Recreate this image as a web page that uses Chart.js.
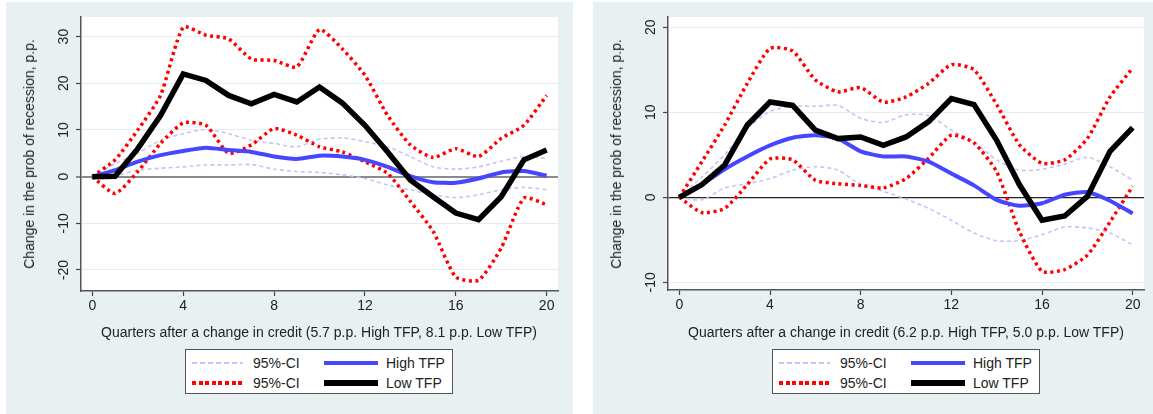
<!DOCTYPE html>
<html>
<head>
<meta charset="utf-8">
<script src="https://cdn.jsdelivr.net/npm/chart.js@4/dist/chart.umd.min.js"></script>
<style>
  body { margin: 0; background: #fff; font-family: "Liberation Sans", Arial, sans-serif; color: #222; }
  .panel { position: absolute; top: 2px; height: 412px; background: #e9f0f2; }
  #pL { left: 6px; width: 567px; }
  #pR { left: 593px; width: 560px; }
  .panel canvas { position: absolute; left: 0; top: 0; }
  .ytitle { position: absolute; left: 23px; top: 152px; transform: translate(-50%, -50%) rotate(-90deg); white-space: nowrap; font-size: 14px; }
  .xtitle { position: absolute; left: 313px; top: 330px; transform: translate(-50%, -50%); white-space: nowrap; font-size: 14px; }
  .legend { position: absolute; left: 179px; top: 347px; width: 266px; height: 43px; border: 1px solid #555; background: #fff; }
  .sw { position: absolute; transform: translateY(-50%); }
  .lab { position: absolute; transform: translateY(-50%); font-size: 14px; white-space: nowrap; }
  .ciB { height: 2px; background: repeating-linear-gradient(90deg, #c4c4f6 0 5px, transparent 5px 8px); }
  .ciR { height: 4px; background: repeating-linear-gradient(90deg, #f00 0 4px, transparent 4px 6.6px); }
  .hi { height: 4px; background: #4646ff; }
  .lo { height: 6px; background: #000; }
</style>
</head>
<body>
<div class="panel" id="pL">
  <canvas id="cL" width="567" height="412"></canvas>
  <div class="ytitle">Change in the prob of recession, p.p.</div>
  <div class="xtitle">Quarters after a change in credit (5.7 p.p. High TFP, 8.1 p.p. Low TFP)</div>
  <div class="legend">
    <div class="sw ciB" style="left:6px;top:13px;width:51px"></div><div class="lab" style="left:67px;top:13px">95%-CI</div>
    <div class="sw ciR" style="left:6px;top:33px;width:51px"></div><div class="lab" style="left:67px;top:33px">95%-CI</div>
    <div class="sw hi" style="left:138px;top:13px;width:54px"></div><div class="lab" style="left:200px;top:13px">High TFP</div>
    <div class="sw lo" style="left:138px;top:33px;width:54px"></div><div class="lab" style="left:200px;top:33px">Low TFP</div>
  </div>
</div>
<div class="panel" id="pR">
  <canvas id="cR" width="560" height="412"></canvas>
  <div class="ytitle">Change in the prob of recession, p.p.</div>
  <div class="xtitle">Quarters after a change in credit (6.2 p.p. High TFP, 5.0 p.p. Low TFP)</div>
  <div class="legend">
    <div class="sw ciB" style="left:6px;top:13px;width:51px"></div><div class="lab" style="left:67px;top:13px">95%-CI</div>
    <div class="sw ciR" style="left:6px;top:33px;width:51px"></div><div class="lab" style="left:67px;top:33px">95%-CI</div>
    <div class="sw hi" style="left:138px;top:13px;width:54px"></div><div class="lab" style="left:200px;top:13px">High TFP</div>
    <div class="sw lo" style="left:138px;top:33px;width:54px"></div><div class="lab" style="left:200px;top:33px">Low TFP</div>
  </div>
</div>
<script>
// quarters after the credit shock
const quarters = [0,1,2,3,4,5,6,7,8,9,10,11,12,13,14,15,16,17,18,19,20];
const xTicks = [0,4,8,12,16,20];

// left panel
const hiL   = [0,1.4,3.2,4.6,5.5,6.2,5.7,5.3,4.3,3.8,4.5,4.3,3.6,2.1,0.1,-1.2,-1.3,-0.4,0.9,1.2,0.2];
const hiUpL = [0,2.8,5.0,7.8,9.2,10.1,9.2,7.8,7.1,6.4,8.0,8.3,7.5,6.4,4.3,2.1,1.6,2.1,3.3,4.3,3.9];
const hiLoL = [0,0.2,1.4,1.8,2.1,2.5,2.5,2.6,1.6,1.1,0.9,0.4,-0.4,-1.8,-2.8,-3.9,-4.5,-3.9,-2.8,-2.3,-2.8];
const loL   = [0,0.1,6.0,13.1,22.0,20.6,17.4,15.6,17.6,16.0,19.2,15.8,11.0,5.3,-0.7,-4.3,-7.8,-9.2,-4.3,3.6,5.7];
const loUpL = [0,3.6,10.0,17.4,32.0,30.3,29.5,25.2,24.9,23.5,31.5,27.4,21.7,13.1,6.8,4.1,6.0,4.3,8.2,11.0,17.4];
const loLoL = [0,-3.6,1.1,7.1,11.5,11.0,5.0,6.8,10.3,8.9,6.4,5.3,3.2,0.7,-5.3,-11.7,-21.5,-22.2,-15.3,-4.6,-6.0];
const yTicksL = [-20,-10,0,10,20,30];

// right panel
const hiR   = [0,1.5,3.3,4.8,6.1,7.0,7.3,6.9,5.4,4.8,4.8,4.2,2.8,1.4,-0.3,-1.0,-0.7,0.3,0.6,-0.4,-1.9];
const hiUpR = [0,2.4,5.0,8.1,10.1,10.7,10.7,10.8,9.3,8.8,9.7,9.6,7.9,6.5,4.4,3.2,3.3,3.9,4.7,3.6,2.0];
const hiLoR = [0,-0.3,1.1,1.6,2.2,3.2,3.6,3.2,1.5,0.7,-0.2,-1.3,-2.7,-4.2,-5.1,-5.1,-4.4,-3.5,-3.6,-4.2,-5.6];
const loR   = [0,1.5,3.8,8.5,11.2,10.8,7.9,6.9,7.1,6.1,7.1,8.9,11.6,10.9,6.7,1.5,-2.7,-2.2,0.1,5.4,8.2];
const loUpR = [0,4.2,8.5,13.4,17.5,17.2,13.8,12.4,12.9,11.2,11.8,13.4,15.6,15.0,10.9,6.2,4.0,4.4,6.9,11.8,15.2];
const loLoR = [0,-1.8,-1.3,1.5,4.5,4.4,2.0,1.6,1.4,1.1,2.2,4.6,7.3,6.4,3.0,-4.0,-8.7,-8.5,-6.8,-2.9,1.3];
const yTicksR = [-10,0,10,20];

function pts(vals){ return vals.map((v,i)=>({x: quarters[i], y: v})); }

function ciBlue(vals){ return { data: pts(vals), borderColor:'#c4c4f6', borderWidth:1.6, borderDash:[4,3], tension:0.25, order:4 }; }
function ciRed(vals){ return { data: pts(vals), borderColor:'#ff0000', borderWidth:3.5, borderDash:[3,3.5], tension:0.2, order:3 }; }

// white plot region + rotated y tick labels
const plotBits = {
  id: 'plotBits',
  beforeDraw(chart){
    const a = chart.chartArea, ctx = chart.ctx;
    ctx.save(); ctx.fillStyle = '#fff';
    ctx.fillRect(a.left, a.top, a.right - a.left, a.bottom - a.top);
    ctx.restore();
  },
  afterDraw(chart){
    const y = chart.scales.y, ctx = chart.ctx;
    ctx.save();
    ctx.font = '14px "Liberation Sans", Arial, sans-serif';
    ctx.fillStyle = '#222'; ctx.textAlign = 'center'; ctx.textBaseline = 'middle';
    y.ticks.forEach(t => {
      ctx.save();
      ctx.translate(y.right - 17, y.getPixelForValue(t.value));
      ctx.rotate(-Math.PI/2);
      ctx.fillText(String(t.value), 0, 0);
      ctx.restore();
    });
    ctx.restore();
  }
};

function makeChart(id, s, yMin, yMax, yTicks, zeroColor, zeroWidth, rightPad, bottom){
  const canvas = document.getElementById(id);
  return new Chart(canvas, {
    type: 'line',
    data: { datasets: [
      { data: pts(s.lo), borderColor:'#000', borderWidth:5.5, tension:0, order:1 },
      { data: pts(s.hi), borderColor:'#4646ff', borderWidth:4, tension:0.2, order:2 },
      ciRed(s.loUp), ciRed(s.loLo),
      ciBlue(s.hiUp), ciBlue(s.hiLo)
    ]},
    options: {
      responsive: false, animation: false, devicePixelRatio: 1,
      elements: { point: { radius: 0 } },
      layout: { padding: { top: 15, right: rightPad, left: 0, bottom: 0 } },
      plugins: { legend: { display: false }, tooltip: { enabled: false } },
      scales: {
        x: {
          type: 'linear', min: -0.5, max: 20.5,
          afterBuildTicks: sc => { sc.ticks = xTicks.map(v => ({ value: v })); },
          afterFit: sc => { sc.height = canvas.height - bottom; },
          grid: { drawOnChartArea: false, drawTicks: true, tickLength: 5, tickColor: '#444', tickWidth: 1.2 },
          border: { color: '#555', width: 1.5 },
          ticks: { font: { size: 14, family: '"Liberation Sans", Arial, sans-serif' }, color: '#222', padding: 2, maxRotation: 0, autoSkip: false }
        },
        y: {
          type: 'linear', min: yMin, max: yMax,
          afterBuildTicks: sc => { sc.ticks = yTicks.map(v => ({ value: v })); },
          afterFit: sc => { sc.width = 75; },
          grid: {
            color: c => (c.tick && c.tick.value === 0) ? zeroColor : '#e6edf0',
            lineWidth: c => (c.tick && c.tick.value === 0) ? zeroWidth : 1,
            drawTicks: true, tickLength: 5, tickColor: '#444', tickWidth: 1.2
          },
          border: { color: '#555', width: 1.5 },
          ticks: { display: false }
        }
      }
    },
    plugins: [plotBits]
  });
}

makeChart('cL', { hi: hiL, hiUp: hiUpL, hiLo: hiLoL, lo: loL, loUp: loUpL, loLo: loLoL },
  -24.5, 34.2, yTicksL, '#8a8a8a', 2, 567 - 552, 289);
makeChart('cR', { hi: hiR, hiUp: hiUpR, hiLo: hiLoR, lo: loR, loUp: loUpR, loLo: loLoR },
  -10.9, 21.2, yTicksR, '#222', 1.2, 560 - 551, 288);
</script>
</body>
</html>
